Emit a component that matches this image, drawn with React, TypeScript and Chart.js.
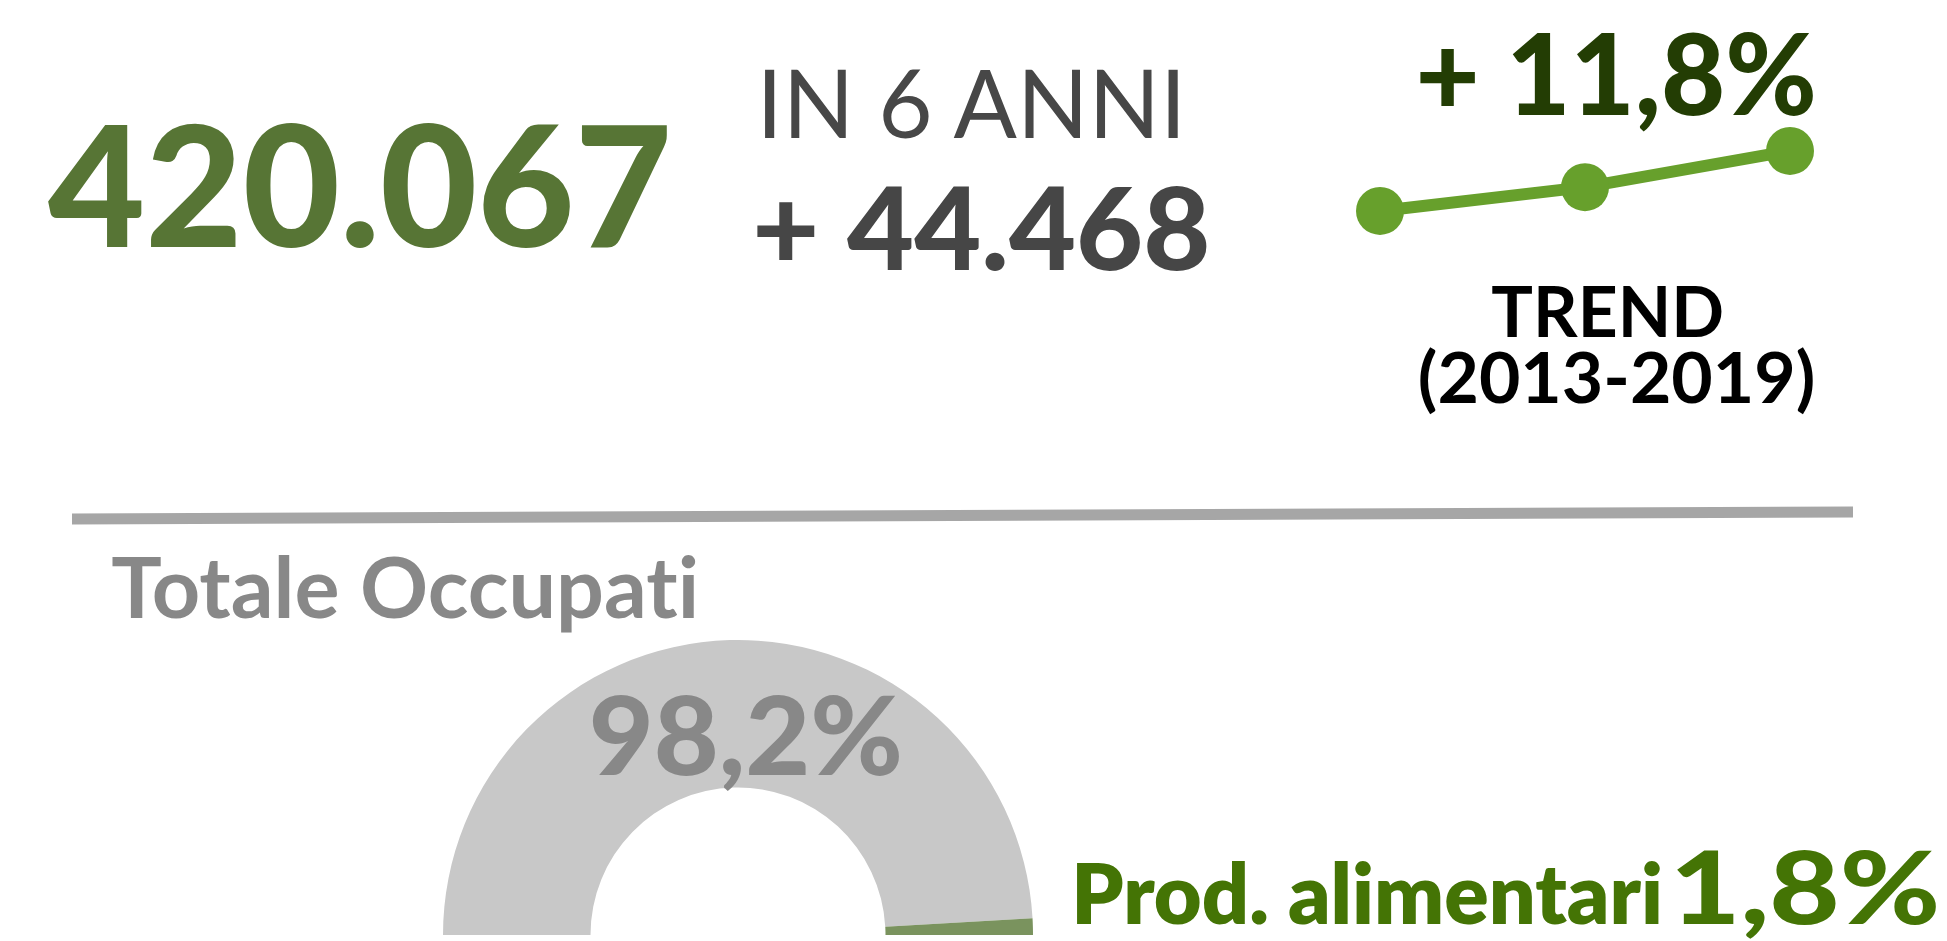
import React, { useEffect, useRef } from "react";
import { Chart, registerables } from "chart.js";

Chart.register(...registerables);

// ---- data ----
const trendYears = ["2013", "2016", "2019"];
const trendValues = [375599, 393200, 420067];
const gaugeLabels = ["Altri occupati", "Prod. alimentari"];
const gaugeValues = [98.2, 1.8];
const gaugeColors = ["#c8c8c8", "#7a935e"];

const TREND_COLOR = "#67a02c";

type TextItem = {
  text: string;
  weight: number;
  color: string;
  left: number;
  right: number;
  capTop: number;
  baseline: number;
};

const texts: TextItem[] = [
  { text: "420.067", weight: 900, color: "#577535", left: 48, right: 667, capTop: 125, baseline: 247 },
  { text: "IN 6 ANNI", weight: 400, color: "#474747", left: 765, right: 1181, capTop: 69, baseline: 138 },
  { text: "+ 44.468", weight: 900, color: "#464646", left: 757, right: 1207, capTop: 187, baseline: 270 },
  { text: "+ 11,8%", weight: 900, color: "#233d04", left: 1420, right: 1814, capTop: 33, baseline: 115 },
  { text: "TREND", weight: 700, color: "#000000", left: 1492, right: 1722, capTop: 285, baseline: 337 },
  { text: "(2013-2019)", weight: 700, color: "#000000", left: 1420, right: 1813, capTop: 352, baseline: 403 },
  { text: "Totale Occupati", weight: 700, color: "#888888", left: 112, right: 697, capTop: 557, baseline: 618 },
  { text: "98,2%", weight: 900, color: "#888888", left: 592, right: 900, capTop: 695, baseline: 775 },
  { text: "Prod. alimentari", weight: 800, color: "#447405", left: 1077, right: 1660, capTop: 862, baseline: 924 },
  { text: "1,8%", weight: 900, color: "#447405", left: 1676, right: 1937, capTop: 850, baseline: 924 },
];

const FONT = "Lato, 'Noto Sans', sans-serif";

let measureCtx: CanvasRenderingContext2D | null = null;
function fitText(t: TextItem) {
  if (!measureCtx) measureCtx = document.createElement("canvas").getContext("2d");
  const ctx = measureCtx!;
  ctx.font = `${t.weight} 100px ${FONT}`;
  const capA = ctx.measureText("H").actualBoundingBoxAscent / 100 || 0.7165;
  const m = ctx.measureText(t.text);
  const size = (t.baseline - t.capTop) / capA;
  const k = size / 100;
  const inkLeft = -m.actualBoundingBoxLeft * k;
  const inkW = (m.actualBoundingBoxLeft + m.actualBoundingBoxRight) * k;
  const sx = inkW > 0 ? (t.right - t.left) / inkW : 1;
  const x0 = t.left - inkLeft * sx;
  return { size, sx, x0 };
}

const TREND_BOX = { left: 1340, top: 100, width: 490, height: 160 };
const GAUGE_BOX = { left: 443, top: 640, width: 590, height: 295 };

function TrendChart() {
  const ref = useRef<HTMLCanvasElement>(null);
  useEffect(() => {
    if (!ref.current) return;
    const chart = new Chart(ref.current, {
      type: "line",
      data: {
        labels: trendYears,
        datasets: [
          {
            data: trendValues,
            borderColor: TREND_COLOR,
            backgroundColor: TREND_COLOR,
            borderWidth: 12,
            pointRadius: 24,
            pointHoverRadius: 24,
            pointBackgroundColor: TREND_COLOR,
            pointBorderWidth: 0,
            tension: 0,
            fill: false,
            clip: false,
          },
        ],
      },
      options: {
        animation: false,
        responsive: false,
        events: [],
        layout: { padding: { left: 40, right: 40, top: 23, bottom: 28 } },
        plugins: { legend: { display: false }, tooltip: { enabled: false } },
        scales: {
          x: { display: false, offset: false },
          y: { display: false, min: 360000, max: 440000 },
        },
      },
    });
    return () => chart.destroy();
  }, []);
  return (
    <canvas
      ref={ref}
      width={TREND_BOX.width}
      height={TREND_BOX.height}
      style={{
        position: "absolute",
        left: TREND_BOX.left,
        top: TREND_BOX.top,
        width: TREND_BOX.width,
        height: TREND_BOX.height,
      }}
    />
  );
}

function GaugeChart() {
  const ref = useRef<HTMLCanvasElement>(null);
  useEffect(() => {
    if (!ref.current) return;
    const chart = new Chart(ref.current, {
      type: "doughnut",
      data: {
        labels: gaugeLabels,
        datasets: [
          {
            data: gaugeValues,
            backgroundColor: gaugeColors,
            borderWidth: 0,
            hoverOffset: 0,
          },
        ],
      },
      options: {
        animation: false,
        responsive: false,
        events: [],
        rotation: -90,
        circumference: 180,
        cutout: "50%",
        layout: { padding: 0 },
        plugins: { legend: { display: false }, tooltip: { enabled: false } },
      },
    });
    return () => chart.destroy();
  }, []);
  return (
    <canvas
      ref={ref}
      width={GAUGE_BOX.width}
      height={GAUGE_BOX.height}
      style={{
        position: "absolute",
        left: GAUGE_BOX.left,
        top: GAUGE_BOX.top,
        width: GAUGE_BOX.width,
        height: GAUGE_BOX.height,
      }}
    />
  );
}

export default function App() {
  const fitted = texts.map((t) => ({ t, f: fitText(t) }));
  return (
    <div
      style={{
        position: "fixed",
        left: 0,
        top: 0,
        width: 1947,
        height: 941,
        background: "#ffffff",
        overflow: "hidden",
      }}
    >
      <TrendChart />
      <GaugeChart />
      <svg
        width={1947}
        height={941}
        style={{ position: "absolute", left: 0, top: 0, pointerEvents: "none" }}
      >
        <line x1={72} y1={519} x2={1853} y2={512} stroke="#a6a6a6" strokeWidth={11} />
        {fitted.map(({ t, f }, i) => (
          <text
            key={i}
            x={0}
            y={0}
            transform={`translate(${f.x0} ${t.baseline}) scale(${f.sx} 1)`}
            fontFamily={FONT}
            fontWeight={t.weight}
            fontSize={f.size}
            fill={t.color}
            style={{ whiteSpace: "pre", fontVariantLigatures: "none", fontFeatureSettings: '"liga" 0, "clig" 0' }}
          >
            {t.text}
          </text>
        ))}
      </svg>
    </div>
  );
}
